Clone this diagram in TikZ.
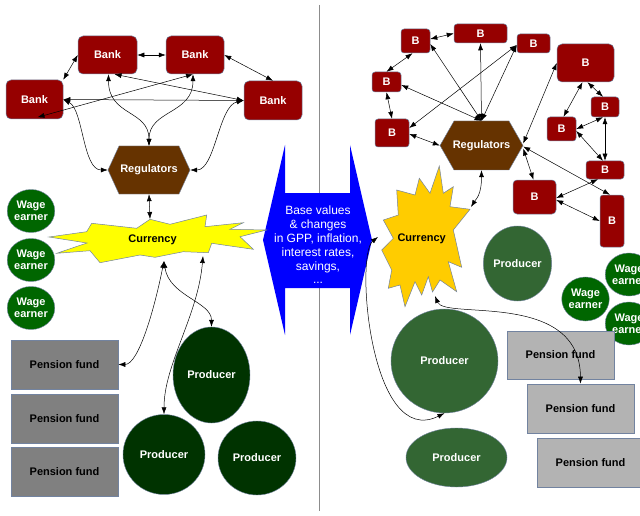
\documentclass[tikz,border=0pt]{standalone}
\usepackage{fontspec}
\setmainfont{Liberation Sans}
\usetikzlibrary{arrows.meta,shapes.geometric}
\definecolor{bankred}{RGB}{150,0,0}
\definecolor{regbrown}{RGB}{102,51,0}
\definecolor{wagegreen}{RGB}{0,102,0}
\definecolor{prodL}{RGB}{0,51,0}
\definecolor{prodR}{RGB}{51,102,51}
\definecolor{pfL}{RGB}{128,128,128}
\definecolor{pfR}{RGB}{179,179,179}
\definecolor{curLcol}{RGB}{255,255,0}
\definecolor{curRcol}{RGB}{255,204,0}
\definecolor{basecol}{RGB}{0,0,255}
\definecolor{outl}{RGB}{114,131,160}
\definecolor{sepcol}{RGB}{140,140,140}
\begin{document}
\begin{tikzpicture}[x=1pt,y=-1pt,
  font=\fontsize{11}{12}\selectfont\bfseries,
  bankbox/.style={rectangle, rounded corners=5pt, fill=bankred, draw=outl, line width=0.5pt, text=white, inner sep=0pt},
  bbox/.style={rectangle, rounded corners=3pt, fill=bankred, draw=outl, line width=0.5pt, text=white, inner sep=0pt},
  pfbox/.style={rectangle, draw=outl, line width=0.6pt, text=black, inner sep=0pt, minimum width=107pt, minimum height=49pt},
  wage/.style={ellipse, fill=wagegreen, draw=outl, line width=0.4pt, text=white, inner sep=0pt, align=center, minimum width=39pt, minimum height=43pt},
  prod/.style={ellipse, draw=outl, line width=0.4pt, text=white, inner sep=0pt},
  hexshape/.style={fill=regbrown, draw=outl, line width=0.4pt},
  hexlabel/.style={rectangle, inner sep=0pt, text=white},
  starshape/.style={draw=outl, line width=0.5pt},
  lbl/.style={inner sep=0pt, text=black},
  arr/.style={draw=black, line width=0.5pt, {Latex[length=7pt,width=5pt]}-{Latex[length=7pt,width=5pt]}},
  sepline/.style={draw=sepcol, line width=1pt}
]
\useasboundingbox (0,0) rectangle (640,516);
\clip (0,0) rectangle (640,516);
\fill[white] (0,0) rectangle (640,516);

% separator and central double arrow
\draw[sepline] (319,5) -- (319,511);
\fill[basecol] (285,145) -- (285,193) -- (350,193) -- (350,145) -- (372,240) -- (350,335) -- (350,288) -- (285,288) -- (285,335) -- (263,240) -- cycle;
\node[font=\fontsize{12}{13.8}\selectfont\mdseries, text=white, align=center, inner sep=0pt] (base) at (318,245) {Base values\\ \& changes\\ in GPP, inflation,\\ interest rates,\\ savings,\\ ...};

% ---------------- left side ----------------
\node[bankbox, minimum width=59pt, minimum height=38pt] (bankA) at (107.5,55) {Bank};
\node[bankbox, minimum width=58pt, minimum height=38pt] (bankB) at (195,55) {Bank};
\node[bankbox, minimum width=57pt, minimum height=39pt] (bankC) at (34.5,99.5) {Bank};
\node[bankbox, minimum width=58pt, minimum height=39pt] (bankD) at (273,100.5) {Bank};

\path[hexshape] (108,170) -- (119,146) -- (179,146) -- (190,170) -- (179,194) -- (119,194) -- cycle;
\node[hexlabel, minimum width=82pt, minimum height=48pt] (reg) at (149,170) {Regulators};

\path[starshape, fill=curLcol] (49,237) -- (86.7,231.7) -- (91.7,223.3) -- (136.7,228.3) -- (150,219.3) -- (170,224.3) -- (206.7,215) -- (205,226.7) -- (243.3,222.7) -- (230,229.3) -- (266.7,230) -- (240,236.7) -- (253.3,249.3) -- (211.7,243.3) -- (208.3,252.7) -- (183.3,251.7) -- (155,257.3) -- (140,255) -- (100,262.7) -- (90,250.7) -- (56.7,253.3) -- (87,243) -- cycle;
\node[lbl] (curL) at (152.5,240) {Currency};
\coordinate (curLtop) at (150,219);
\coordinate (curLb1) at (164,261);
\coordinate (curLb2) at (203,256);

\node[wage] (wl1) at (31,211) {Wage\\earner};
\node[wage] (wl2) at (31,260) {Wage\\earner};
\node[wage] (wl3) at (31,308) {Wage\\earner};

\node[pfbox, fill=pfL] (pfl1) at (64.5,364.5) {Pension fund};
\node[pfbox, fill=pfL] (pfl2) at (64.5,418.5) {Pension fund};
\node[pfbox, fill=pfL] (pfl3) at (64.5,471.5) {Pension fund};

\node[prod, fill=prodL, minimum width=77pt, minimum height=96pt] (p1) at (211.5,375) {Producer};
\node[prod, fill=prodL, minimum width=82pt, minimum height=80pt] (p2) at (164,454.5) {Producer};
\node[prod, fill=prodL, minimum width=78pt, minimum height=74pt] (p3) at (257,458) {Producer};

% ---------------- right side ----------------
\node[bbox, minimum width=29pt, minimum height=24pt] (Ba) at (415.5,41) {B};
\node[bbox, minimum width=53pt, minimum height=19pt] (Bb) at (480.5,33.5) {B};
\node[bbox, minimum width=33pt, minimum height=19pt] (Bc) at (533.5,43.5) {B};
\node[bbox, minimum width=29pt, minimum height=20pt] (Bd) at (386.5,82) {B};
\node[bbox, minimum width=34pt, minimum height=28pt] (Be) at (392,133) {B};
\node[bbox, rounded corners=5pt, minimum width=57pt, minimum height=38pt] (Bf) at (585.5,63) {B};
\node[bbox, minimum width=28pt, minimum height=20pt] (Bg) at (605,107) {B};
\node[bbox, minimum width=29pt, minimum height=24pt] (Bh) at (561.5,129) {B};
\node[bbox, minimum width=38pt, minimum height=18pt] (Bi) at (605,170) {B};
\node[bbox, rounded corners=4pt, minimum width=43pt, minimum height=34pt] (Bj) at (534.5,197) {B};
\node[bbox, minimum width=24pt, minimum height=52pt] (Bk) at (612,221) {B};

\path[hexshape] (440,145.5) -- (454,121) -- (509,121) -- (523,145.5) -- (509,170) -- (454,170) -- cycle;
\node[hexlabel, minimum width=83pt, minimum height=49pt] (regR) at (481.5,145.5) {Regulators};

\path[starshape, fill=curRcol] (439.3,166) -- (443.3,193.3) -- (453.3,186.7) -- (450,206.7) -- (470,209.3) -- (453.3,230) -- (461.7,267.3) -- (448.3,261.7) -- (456.7,291.7) -- (440,280) -- (432.5,292) -- (428.3,276.7) -- (421.7,295) -- (415,281.7) -- (405,306.7) -- (400,285) -- (388.3,288.3) -- (391.7,270) -- (381.7,250) -- (393.3,238.3) -- (383.3,220) -- (398.3,215) -- (396.7,190) -- (415,195) -- (419.3,178.3) -- (430,193.3) -- cycle;
\node[lbl] (curR) at (421.7,238.5) {Currency};
\coordinate (curRtr) at (471,207);
\coordinate (curRl) at (378,237);
\coordinate (curRb) at (435,296);

\node[prod, fill=prodR, minimum width=57pt, minimum height=75pt] (prA) at (517.5,263.5) {Producer};
\node[prod, fill=prodR, minimum width=107pt, minimum height=104pt] (prB) at (444.5,361) {Producer};
\node[prod, fill=prodR, minimum width=101pt, minimum height=59pt] (prC) at (456.5,457.5) {Producer};

\node[wage, minimum width=37pt, minimum height=44pt] (wr1) at (585.5,299) {Wage\\earner};
\node[wage] (wr2) at (629,274.5) {Wage\\earner};
\node[wage] (wr3) at (629,323.5) {Wage\\earner};

\node[pfbox, fill=pfR, minimum height=48pt] (pfr1) at (560.5,355) {Pension fund};
\node[pfbox, fill=pfR] (pfr2) at (580.5,408.5) {Pension fund};
\node[pfbox, fill=pfR] (pfr3) at (590.5,462.5) {Pension fund};

% ---------------- connectors left ----------------
\draw[arr] (bankA) -- (bankB);
\draw[arr] (bankA.west) -- (bankC.north east);
\draw[arr] (bankB.east) -- (bankD.north);
\draw[arr] ([xshift=7pt]bankA.south) -- (bankD.west);
\draw[arr] ([xshift=-2pt]bankB.south) -- ([xshift=3pt,yshift=2pt]bankC.south);
\draw[arr] (bankC.east) -- (bankD.west);
\draw[arr] ([xshift=1pt]bankA.south) .. controls +(0,42) and +(0,-36) .. (reg.north);
\draw[arr] ([xshift=-2pt]bankB.south) .. controls +(0,40) and +(0,-36) .. (reg.north);
\draw[arr] (bankC.east) .. controls +(20,10) and +(-25,0) .. (reg.west);
\draw[arr] (bankD.west) .. controls +(-25,5) and +(25,0) .. (reg.east);
\draw[arr] (reg.south) -- (curLtop);
\draw[arr] (curLb1) .. controls +(-10,50) and +(20,0) .. (pfl1.east);
\draw[arr] (curLb1) .. controls +(5,35) and +(0,-25) .. (p1.north);
\draw[arr] (curLb2) .. controls +(-5,60) and +(0,-50) .. (p2.north);

% ---------------- connectors right ----------------
\draw[arr] ([yshift=2pt]Ba.east) -- (Bb.west);
\draw[arr] ([xshift=-3pt]Ba.south) -- (Bd.north);
\draw[arr] (Bd.south) -- (Be.north);
\draw[arr] (regR.north) -- ([yshift=-3pt]Ba.east);
\draw[arr] (regR.north) -- (Bb.south);
\draw[arr] (regR.north) -- ([yshift=-1.5pt]Bc.west);
\draw[arr] (regR.north) -- ([yshift=-3pt]Bd.east);
\draw[arr] ([yshift=-1.5pt]Bc.west) -- ([yshift=5pt]Be.east);
\draw[arr] ([yshift=-1pt]Be.east) -- (regR.west);
\draw[arr] (Bf.west) -- ([yshift=2pt]regR.east);
\draw[arr] ([yshift=-3pt]regR.east) -- ([xshift=-1pt]Bj.north);
\draw[arr] ([yshift=-1pt]regR.east) -- ([xshift=-2pt]Bk.north);
\draw[arr] ([xshift=-3pt]Bf.south) -- ([xshift=2pt]Bh.north);
\draw[arr] ([xshift=2pt]Bf.south) -- ([xshift=-2pt]Bg.north);
\draw[arr] ([xshift=-2pt]Bg.south) -- (Bh.east);
\draw[arr] (Bg.south) -- (Bi.north);
\draw[arr] ([yshift=-2pt]Bh.east) -- ([xshift=-2pt]Bi.north);
\draw[arr] ([xshift=-7pt]Bi.south) -- ([yshift=-1pt]Bj.east);
\draw[arr] ([yshift=-3pt]Bj.east) -- (Bk.west);
\draw[arr] (regR.south) .. controls +(0,25) and +(5,-8) .. (curRtr);
\draw[arr] (curRl) .. controls (355,255) and (370,450) .. (prB.south);
\draw[arr] (curRb) .. controls (445,320) and (580,290) .. (pfr2.north);
\end{tikzpicture}
\end{document}
